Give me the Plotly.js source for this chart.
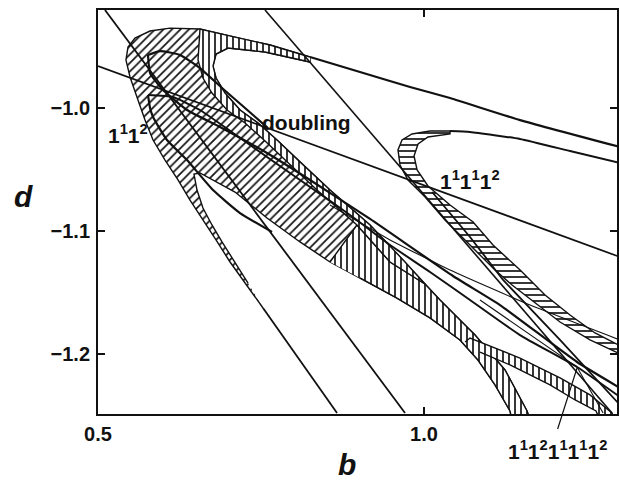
<!DOCTYPE html>
<html>
<head>
<meta charset="utf-8">
<script src="https://cdn.plot.ly/plotly-3.0.1.min.js"></script>
<style>
  html, body { margin: 0; padding: 0; background: #fff; }
  #chart { width: 620px; height: 482px; }
</style>
</head>
<body>
<div id="chart"></div>
<script>
// Parameter plane (b, d): stability tongues of the 1^1 1^2 family and neighbours.

// --- 1^1 1^2 tongue (outer boundary, inner white lobe, lower band edge)
const tongueB = [0.7531,0.7285,0.7025,0.6810,0.6610,0.6411,0.6227,0.6028,0.5844,0.5721,0.5613,0.5491,0.5429,0.5460,0.5567,0.5798,0.6104,0.6564,0.7101,0.7638,0.8252,0.8252,0.7561,0.6994,0.6810,0.6764,0.6810,0.6948,0.7178,0.7454,0.7745,0.8098,0.8558,0.9172,0.9709,1.0245,1.0782,1.1242,1.1580,1.1626,1.1350,1.1319,1.1089,1.0828,1.0552,1.0092,0.9586,0.9018,0.8558,0.8098,0.7592,0.7101,0.6564,0.6472,0.6518,0.6610,0.6748,0.6902,0.7101,0.7301];
const tongueD = [-1.1626,-1.1439,-1.1252,-1.1073,-1.0911,-1.0748,-1.0585,-1.0423,-1.0260,-1.0098,-0.9935,-0.9748,-0.9610,-0.9504,-0.9431,-0.9374,-0.9350,-0.9358,-0.9423,-0.9488,-0.9585,-0.9626,-0.9545,-0.9512,-0.9561,-0.9659,-0.9756,-0.9878,-1.0016,-1.0122,-1.0260,-1.0439,-1.0667,-1.0951,-1.1252,-1.1561,-1.1846,-1.2130,-1.2463,-1.2537,-1.2537,-1.2463,-1.2252,-1.2049,-1.1886,-1.1707,-1.1545,-1.1382,-1.1252,-1.1089,-1.0894,-1.0683,-1.0528,-1.0537,-1.0667,-1.0813,-1.0951,-1.1089,-1.1252,-1.1423];

// --- period-doubling band along the inner lobe
const doublingB = [0.8252,0.7638,0.7101,0.6564,0.6549,0.6534,0.6610,0.6748,0.6979,0.7255,0.7546,0.7899,0.8359,0.8972,0.9479,1.0015,0.9709,0.9172,0.8558,0.8098,0.7745,0.7454,0.7178,0.6948,0.6810,0.6764,0.6810,0.6994,0.7561,0.8252];
const doublingD = [-0.9585,-0.9488,-0.9423,-0.9358,-0.9488,-0.9610,-0.9756,-0.9878,-1.0016,-1.0122,-1.0260,-1.0439,-1.0667,-1.0951,-1.1252,-1.1431,-1.1252,-1.0951,-1.0667,-1.0439,-1.0260,-1.0122,-1.0016,-0.9878,-0.9756,-0.9659,-0.9561,-0.9512,-0.9545,-0.9626];

// --- lower part of the main band
const bandB = [0.8558,0.8972,0.9479,1.0015,1.0245,1.0782,1.1242,1.1580,1.1626,1.1350,1.1319,1.1089,1.0828,1.0552,1.0092,0.9586,0.9018];
const bandD = [-1.1252,-1.0951,-1.1252,-1.1431,-1.1561,-1.1846,-1.2130,-1.2463,-1.2537,-1.2537,-1.2463,-1.2252,-1.2049,-1.1886,-1.1707,-1.1545,-1.1382];

// --- branch splitting off towards the lower right
const branchB = [1.0630,1.0706,1.1472,1.2086,1.2546,1.2883,1.2929,1.2699,1.2638,1.2318,1.1933,1.1319,1.0859];
const branchD = [-1.1902,-1.1870,-1.2033,-1.2195,-1.2333,-1.2480,-1.2537,-1.2537,-1.2463,-1.2374,-1.2252,-1.2089,-1.1984];

// --- 1^1 1^1 1^2 tongue
const smallB = [1.3038,1.2546,1.2086,1.1702,1.1350,1.1089,1.0706,1.0322,1.0017,0.9755,0.9632,0.9601,0.9663,0.9816,1.0092,1.0399,1.0399,1.0061,0.9909,0.9847,0.9894,1.0061,1.0399,1.0753,1.1058,1.1474,1.1856,1.2239,1.2623,1.3038];
const smallD = [-1.2008,-1.1886,-1.1740,-1.1585,-1.1439,-1.1317,-1.1114,-1.0911,-1.0724,-1.0585,-1.0463,-1.0341,-1.0260,-1.0211,-1.0187,-1.0187,-1.0211,-1.0236,-1.0293,-1.0390,-1.0504,-1.0634,-1.0789,-1.0927,-1.1114,-1.1317,-1.1520,-1.1683,-1.1829,-1.1943];

// --- bifurcation curves
const line1B = [0.5107, 0.9709];           const line1D = [-0.9203, -1.2480];
const line2B = [0.7561, 1.2883];           const line2D = [-0.9203, -1.2480];
const line3B = [0.5000, 1.3006];           const line3D = [-0.9659, -1.1211];
const topEdgeB = [0.8252,0.9018,0.9785,1.0399,1.1472,1.3006];
const topEdgeD = [-0.9585,-0.9707,-0.9829,-0.9919,-1.0098,-1.0317];
const smallTopB = [1.0399,1.0706,1.1472,1.2239,1.3006];
const smallTopD = [-1.0187,-1.0195,-1.0252,-1.0350,-1.0447];
const loop1UpB = [0.5767,0.5951,0.6258,0.6564,0.6902,0.7255,0.7607];
const loop1UpD = [-0.9569,-0.9537,-0.9569,-0.9675,-0.9837,-1.0000,-1.0163];
const loop1LoB = [0.5767,0.5798,0.5997,0.6365,0.6871,0.7592,0.8252,0.9172,1.0445,1.1166,1.2347,1.3006];
const loop1LoD = [-0.9569,-0.9715,-0.9854,-1.0016,-1.0154,-1.0366,-1.0585,-1.0902,-1.1366,-1.1602,-1.2065,-1.2276];
const loop2UpB = [0.5767,0.6150,0.6564,0.7071,0.7592,0.8252,0.8865,0.9479,1.0092,1.0706,1.1472,1.2347,1.3006];
const loop2UpD = [-0.9894,-0.9911,-1.0016,-1.0203,-1.0398,-1.0642,-1.0870,-1.1114,-1.1333,-1.1561,-1.1846,-1.2106,-1.2350];
const loop2LoB = [0.5767,0.5798,0.5844,0.6058,0.6365,0.6764,0.7178,0.7669];
const loop2LoD = [-0.9894,-1.0000,-1.0073,-1.0260,-1.0423,-1.0667,-1.0854,-1.1008];
const stripTailB = [0.7531, 0.8666];       const stripTailD = [-1.1626, -1.2480];
const innerB = [1.0124,1.0706,1.1213,1.2086,1.3006];
const innerD = [-1.0683,-1.1049,-1.1398,-1.1886,-1.2415];
const thinB = [0.8558,0.9479,1.0399,1.1626,1.3006];
const thinD = [-1.0789,-1.1073,-1.1317,-1.1602,-1.1886];
const fanB = [1.0859,1.2347,1.2747];
const fanD = [-1.1561,-1.2106,-1.2480];

// --- labels
const xTicks = [0.5, 1.0];
const xTickText = ['0.5', '1.0'];
const yTicks = [-1.0, -1.1, -1.2];
const yTickText = ['\u22121.0', '\u22121.1', '\u22121.2'];

const FONT = 'Liberation Sans, Arial, sans-serif';

function region(bs, ds, shape, size) {
  return {
    x: bs, y: ds, type: 'scatter', mode: 'lines', fill: 'toself',
    fillcolor: '#ffffff',
    fillpattern: { shape: shape, size: size, solidity: 0.28, fgcolor: '#111', bgcolor: '#fff', fgopacity: 1 },
    line: { color: '#111', width: 1.4 }, hoverinfo: 'skip', showlegend: false
  };
}
function curve(bs, ds, w, smooth) {
  const line = { color: '#111', width: w };
  if (smooth) { line.shape = 'spline'; line.smoothing = 0.45; }
  return { x: bs, y: ds, type: 'scatter', mode: 'lines', line: line,
    hoverinfo: 'skip', showlegend: false };
}

const traces = [
  region(tongueB, tongueD, '/', 6),
  region(bandB, bandD, '|', 6),
  region(doublingB, doublingD, '|', 6),
  region(branchB, branchD, '|', 6),
  region(smallB, smallD, '-', 6),
  curve(line1B, line1D, 1.8),
  curve(line2B, line2D, 1.6),
  curve(line3B, line3D, 1.8),
  curve(topEdgeB, topEdgeD, 2.2, true),
  curve(smallTopB, smallTopD, 2, true),
  curve(loop1UpB, loop1UpD, 2.2, true),
  curve(loop1LoB, loop1LoD, 2.2, true),
  curve(loop2UpB, loop2UpD, 2, true),
  curve(loop2LoB, loop2LoD, 2.2, true),
  curve(stripTailB, stripTailD, 1.8),
  curve(innerB, innerD, 1.8),
  curve(thinB, thinD, 1.1, true),
  curve(fanB, fanD, 1.1)
];

const labelFont = { family: FONT, size: 21, color: '#111', weight: 700 };
const titleFont = { family: FONT, size: 30, color: '#111', weight: 700, style: 'italic' };

function label(x, y, text, font, refs) {
  const a = { x: x, y: y, text: text, showarrow: false, font: font,
              xanchor: 'center', yanchor: 'middle' };
  if (refs) { a.xref = 'paper'; a.yref = 'paper'; }
  return a;
}

const layout = {
  width: 620, height: 482,
  margin: { l: 98, r: 3, t: 10, b: 68 },
  paper_bgcolor: '#fff', plot_bgcolor: '#fff',
  showlegend: false,
  xaxis: {
    range: [0.5, 1.296], tickvals: xTicks, ticktext: xTickText,
    ticks: 'inside', ticklen: 7, tickwidth: 1.5, tickcolor: '#111',
    showline: true, linewidth: 2, linecolor: '#111', mirror: 'ticks',
    showgrid: false, zeroline: false, ticklabelstandoff: 1,
    tickfont: { family: FONT, size: 20, color: '#111', weight: 700 }
  },
  yaxis: {
    range: [-1.2488, -0.9203], tickvals: yTicks, ticktext: yTickText,
    ticks: 'inside', ticklen: 7, tickwidth: 1.5, tickcolor: '#111',
    showline: true, linewidth: 2, linecolor: '#111', mirror: 'ticks',
    showgrid: false, zeroline: false, ticklabelstandoff: 2,
    tickfont: { family: FONT, size: 20, color: '#111', weight: 700 }
  },
  annotations: [
    label(0.5461, -1.0211, '1<sup>1</sup>1<sup>2</sup>', labelFont),
    label(0.8191, -1.0114, 'doubling', labelFont),
    label(1.0706, -1.0585, '1<sup>1</sup>1<sup>1</sup>1<sup>2</sup>', labelFont),
    label(0.8863, -0.0891, '1<sup>1</sup>1<sup>2</sup>1<sup>1</sup>1<sup>1</sup>1<sup>2</sup>', labelFont, true),
    { x: 1.2347, y: -1.2114, ax: -20, ay: 63, text: ' ', showarrow: true, arrowhead: 0, arrowwidth: 1.2,
      arrowcolor: '#111', standoff: 0, startstandoff: 0, font: { size: 1 } },
    label(0.4798, -0.1262, 'b', titleFont, true),
    label(-0.1445, 0.5396, 'd', titleFont, true)
  ]
};

Plotly.newPlot('chart', traces, layout, { staticPlot: true, displayModeBar: false });
</script>
</body>
</html>
